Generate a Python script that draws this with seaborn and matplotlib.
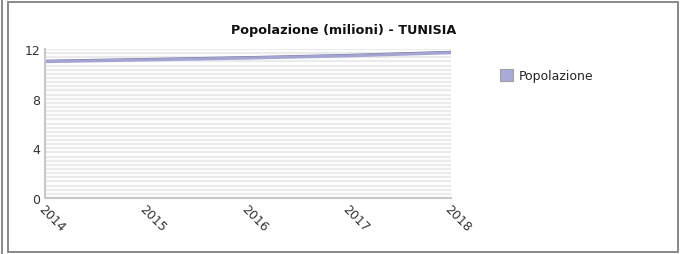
#!/usr/bin/env python
""" Popolazione (milioni) - TUNISIA """

import numpy as np
import pandas as pd
import seaborn as sns
import matplotlib
matplotlib.use('Agg')
import matplotlib.pyplot as plt
import matplotlib.patheffects as pe
from matplotlib.patches import Rectangle, Patch

years = [2014, 2015, 2016, 2017, 2018]
popolazione = [10.98, 11.12, 11.27, 11.45, 11.70]


def main():
    """ Main function """
    sns.set_style("white")
    plt.rcParams['font.family'] = ['DejaVu Sans']

    df = pd.DataFrame({'anno': years, 'Popolazione': popolazione})

    f = plt.figure(figsize=(6.81, 2.55), dpi=100)
    ax = f.add_axes([0.0661, 0.2196, 0.5962, 0.5843])

    # striped background
    ax.set_yticks(np.arange(0, 12, 1 / 3.0), minor=True)
    ax.grid(which='minor', axis='y', color='#ebebeb', linewidth=1.6)
    ax.grid(which='major', axis='y', color='#ebebeb', linewidth=1.6)
    ax.set_axisbelow(True)

    # Draw the line
    sns.lineplot(data=df, x='anno', y='Popolazione', ax=ax,
                 color='#a4a4d2', linewidth=2.2, legend=False,
                 path_effects=[pe.Stroke(linewidth=1.4, foreground='#74749c',
                                         offset=(0, 0.7)),
                               pe.Normal()])

    ax.set_xlim(2014, 2018)
    ax.set_ylim(0, 12)
    ax.set_xticks(years)
    ax.set_xticklabels([str(y) for y in years], rotation=-45,
                       ha='left', va='top', rotation_mode='anchor',
                       fontsize=9, color='#333333')
    ax.set_yticks([0, 4, 8, 12])
    ax.set_yticklabels(['0', '4', '8', '12'], fontsize=9, color='#333333')
    ax.set_xlabel('')
    ax.set_ylabel('')

    for side in ['top', 'right']:
        ax.spines[side].set_visible(False)
    for side in ['left', 'bottom']:
        ax.spines[side].set_color('#c8c8c8')
        ax.spines[side].set_linewidth(1.5)
    ax.tick_params(axis='both', which='major', length=2, width=0.8,
                   color='#aaaaaa', pad=1.5)
    ax.tick_params(axis='x', which='major', pad=0.5)
    ax.tick_params(axis='y', which='minor', length=0)

    f.text(0.505, 0.88, 'Popolazione (milioni) - TUNISIA', ha='center',
           va='center', fontsize=9.2, fontweight='bold', color='#111111')

    # Legend
    handle = Patch(facecolor='#aaaad6', edgecolor='#a0a0a0', linewidth=0.8)
    f.legend([handle], ['Popolazione'], loc='upper left',
             bbox_to_anchor=(0.727, 0.745), frameon=False, fontsize=9,
             handlelength=1.05, handleheight=1.05, handletextpad=0.45,
             borderaxespad=0)

    # Outer frame
    f.patches.append(Rectangle((8 / 681.0, 2 / 255.0), 670 / 681.0,
                               250 / 255.0, transform=f.transFigure,
                               fill=False, edgecolor='#888888',
                               linewidth=1.4))
    f.patches.append(Rectangle((2 / 681.0, 0.0), 0.0, 1.0,
                               transform=f.transFigure, fill=False,
                               edgecolor='#888888', linewidth=1.4))

    plt.savefig('out.png', dpi=100)
    plt.close(f)


if __name__ == '__main__':
    main()
